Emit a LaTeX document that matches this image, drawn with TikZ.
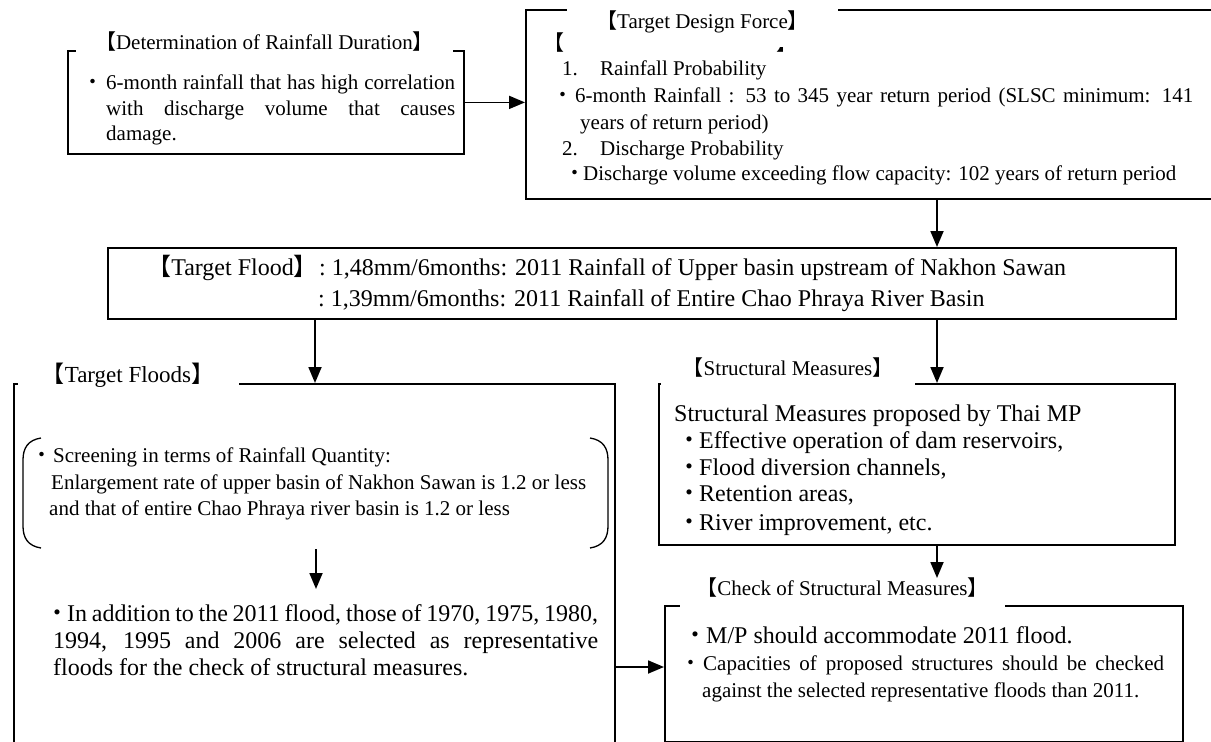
\documentclass[tikz,border=0pt]{standalone}
\usepackage{fontspec}
\setmainfont{Liberation Serif}
\newfontfamily\cj{Noto Sans CJK JP}
\usetikzlibrary{arrows.meta}
\newcommand\Fa{\fontsize{21pt}{25pt}\selectfont}
\newcommand\Fb{\fontsize{24pt}{29pt}\selectfont}
\newcommand\Fc{\fontsize{23pt}{28pt}\selectfont}
\newcommand\Bu{\makebox[0pt]{\cj ・}}
\newcommand\Lb{{\cj 【}}
\newcommand\Rb{{\cj 】}}
\newcommand\Js[2]{\makebox[#1pt][s]{#2}}
\begin{document}
\begin{tikzpicture}[x=1pt,y=-1pt,
  box/.style={draw, line width=1.8pt, inner sep=0pt, anchor=north west},
  ttl/.style={fill=white, inner sep=2pt, font=\Fa},
  tx/.style={anchor=base west, inner sep=0pt, font=\Fa},
  tb/.style={anchor=base west, inner sep=0pt, font=\Fb},
  bu/.style={anchor=base, inner sep=0pt, font=\Fa},
  arr/.style={line width=1.8pt, -{Triangle[length=16pt,width=13pt]}},
  brk/.style={line width=1.3pt}]
\useasboundingbox (0,0) rectangle (1211,742);
\fill[white] (0,0) rectangle (1211,742);
% boxes
\node[box, minimum width=396pt, minimum height=103pt] (b1) at (67,50) {};
\node[box, minimum width=700pt, minimum height=189pt] (b2) at (525,9) {};
\node[box, minimum width=1068pt, minimum height=71pt] (tf) at (107,247) {};
\node[box, minimum width=601pt, minimum height=420pt] (tfs) at (13,383) {};
\node[box, minimum width=516pt, minimum height=161pt] (st) at (658,383) {};
\node[box, minimum width=518pt, minimum height=136pt] (ck) at (664,605) {};
% hidden heading remnants
\node[tx] (hb1) at (543,50) {\Lb};
\node[tx] (hb2) at (776,50) {\Rb};
% titles
\node[ttl, minimum width=377pt] (t1) at (264.5,42) {\Lb Determination of Rainfall Duration\Rb};
\node[ttl, minimum width=271pt, minimum height=50pt] (t2) at (702.5,22) {\Lb Target Design Force\Rb};
\node[ttl, font=\Fc, minimum width=221pt] (t3) at (128,375) {\Lb Target Floods\Rb};
\node[ttl, minimum width=254pt, minimum height=36pt] (t4) at (788,368) {\Lb Structural Measures\Rb};
\node[ttl, minimum width=325pt, minimum height=38pt] (t5) at (842.5,588) {\Lb Check of Structural Measures\Rb};
% box 1
\node[bu] (p1) at (93,89) {\Bu};
\node[tx] (l1) at (106,89) {\Js{349}{6-month rainfall that has high correlation}};
\node[tx] (l2) at (106,115) {\Js{349}{with discharge volume that causes}};
\node[tx] (l3) at (106,140) {damage.};
% box 2
\node[tx] (n1) at (562,75) {1.};
\node[tx] (m1) at (600,75) {Rainfall Probability};
\node[bu] (p2) at (563,102) {\Bu};
\node[tx] (m2) at (575,102) {\Js{618}{6-month Rainfall : 53 to 345 year return period (SLSC minimum: 141}};
\node[tx] (m3) at (580,129) {years of return period)};
\node[tx] (n2) at (562,155) {2.};
\node[tx] (m4) at (600,155) {Discharge Probability};
\node[bu] (p3) at (575,180) {\Bu};
\node[tx] (m5) at (583,180) {Discharge volume exceeding flow capacity: 102 years of return period};
% target flood
\node[tb, anchor=base east] (f0) at (318,275) {\Lb Target Flood{\cj 】}\hspace{-7pt}};
\node[tb] (f1) at (319,275) {:\hspace{6pt}1,48mm/6months: 2011 Rainfall of Upper basin upstream of Nakhon Sawan};
\node[tb] (f2) at (318,306) {:\hspace{6pt}1,39mm/6months: 2011 Rainfall of Entire Chao Phraya River Basin};
% target floods
\node[bu] (p4) at (42,462) {\Bu};
\node[tx] (s1) at (53,462) {Screening in terms of Rainfall Quantity:};
\node[tx] (s2) at (51,489) {Enlargement rate of upper basin of Nakhon Sawan is 1.2 or less};
\node[tx] (s3) at (49,515) {and that of entire Chao Phraya river basin is 1.2 or less};
\draw[brk] (41,438) .. controls (28,440) and (23,448) .. (23,460) -- (23,526) .. controls (23,538) and (28,546) .. (41,548);
\draw[brk] (590,438) .. controls (603,440) and (608,448) .. (608,460) -- (608,526) .. controls (608,538) and (603,546) .. (590,548);
\node[bu, font=\Fb] (p5) at (57,621) {\Bu};
\node[tb] (s4) at (67,621) {\Js{531}{In addition to the 2011 flood, those of 1970, 1975, 1980,}};
\node[tb] (s5) at (53,648) {\Js{545}{1994, 1995 and 2006 are selected as representative}};
\node[tb] (s6) at (53,675) {floods for the check of structural measures.};
% structural
\node[tb] (r0) at (674,421) {Structural Measures proposed by Thai MP};
\node[bu, font=\Fb] (q1) at (689,448) {\Bu};
\node[tb] (r1) at (699,448) {Effective operation of dam reservoirs,};
\node[bu, font=\Fb] (q2) at (689,475) {\Bu};
\node[tb] (r2) at (699,475) {Flood diversion channels,};
\node[bu, font=\Fb] (q3) at (689,501) {\Bu};
\node[tb] (r3) at (699,501) {Retention areas,};
\node[bu, font=\Fb] (q4) at (689,530) {\Bu};
\node[tb] (r4) at (699,530) {River improvement, etc.};
% check
\node[bu, font=\Fb] (q5) at (695,643) {\Bu};
\node[tb] (c1) at (706,643) {M/P should accommodate 2011 flood.};
\node[bu] (q6) at (691,670) {\Bu};
\node[tx] (c2) at (703,670) {\Js{461}{Capacities of proposed structures should be checked}};
\node[tx] (c3) at (702,697) {against the selected representative floods than 2011.};
% connectors
\coordinate (ax1) at (315,0);
\coordinate (ax2) at (937,0);
\coordinate (ay) at (0,667);
\coordinate (sa) at (316,549);
\coordinate (sb) at (316,589);
\coordinate (ckin) at (937,578);
\draw[arr] (b1.east) -- (b1.east -| b2.west);
\draw[arr] (ax2 |- b2.south) -- (ax2 |- tf.north);
\draw[arr] (ax1 |- tf.south) -- (ax1 |- tfs.north);
\draw[arr] (ax2 |- tf.south) -- (ax2 |- st.north);
\draw[arr] (ax2 |- st.south) -- (ckin);
\draw[arr] (sa) -- (sb);
\draw[arr] (ay -| tfs.east) -- (ay -| ck.west);
\end{tikzpicture}
\end{document}
